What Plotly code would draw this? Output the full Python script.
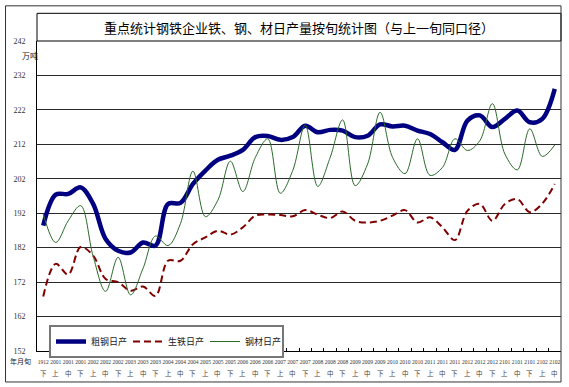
import plotly.graph_objects as go

# ---- data ----
years = ["1912",
         "2001", "2001", "2001", "2002", "2002", "2002", "2003", "2003", "2003",
         "2004", "2004", "2004", "2005", "2005", "2005", "2006", "2006", "2006",
         "2007", "2007", "2007", "2008", "2008", "2008", "2009", "2009", "2009",
         "2010", "2010", "2010", "2011", "2011", "2011", "2012", "2012", "2012",
         "2101", "2101", "2101", "2102", "2102"]
periods = ["下",
           "上", "中", "下", "上", "中", "下", "上", "中", "下",
           "上", "中", "下", "上", "中", "下", "上", "中", "下",
           "上", "中", "下", "上", "中", "下", "上", "中", "下",
           "上", "中", "下", "上", "中", "下", "上", "中", "下",
           "上", "中", "下", "上", "中"]

crude_steel = [188.4, 197.4, 197.6, 199.5, 194.7, 184.5, 181.1, 180.6, 183.5, 182.6,
               194.7, 195.0, 200.5, 204.4, 207.5, 208.7, 210.4, 214.1, 214.4, 213.3,
               214.1, 217.4, 215.5, 216.2, 216.0, 214.1, 214.5, 217.8, 217.2, 217.4,
               216.0, 215.0, 212.6, 210.4, 218.9, 220.4, 217.0, 219.4, 221.8, 218.4,
               219.4, 228.1]
pig_iron = [167.8, 177.3, 174.2, 182.2, 179.7, 172.9, 172.0, 169.5, 170.7, 168.0,
            178.2, 178.2, 183.0, 185.0, 186.9, 185.8, 187.9, 191.3, 191.6, 191.5,
            191.1, 192.9, 191.6, 190.6, 192.5, 189.8, 189.3, 189.8, 191.3, 192.9,
            189.3, 190.8, 187.9, 184.2, 192.7, 194.7, 189.8, 194.7, 196.1, 192.3,
            194.8, 200.5]
steel_products = [191.8, 183.5, 189.8, 194.2, 179.5, 169.3, 179.2, 168.3, 176.0, 185.4,
                  182.6, 189.0, 204.2, 191.0, 195.8, 207.1, 198.3, 208.2, 213.6, 197.8,
                  204.4, 217.6, 199.8, 208.2, 219.1, 200.0, 206.3, 221.3, 208.2, 203.5,
                  213.6, 203.0, 205.3, 213.6, 210.2, 213.1, 223.8, 209.2, 204.6, 216.5,
                  208.5, 211.8]

series_names = ["粗钢日产", "生铁日产", "钢材日产"]
y_ticks = [152, 162, 172, 182, 192, 202, 212, 222, 232, 242]
title_text = "重点统计钢铁企业铁、钢、材日产量按旬统计图（与上一旬同口径）"
unit_text = "万吨"
xlabel_text = "年月旬"

# ---- layout helpers ----
W, H = 569, 387
L, R, T, B = 37, 561.5, 40.7, 351


def px2x(px):
    return (px - L) / (R - L)


def py2y(py):
    return (B - py) / (B - T)


keys = [y + p for y, p in zip(years, periods)]
FONT = "Liberation Serif, Noto Sans CJK SC, serif"
CJK = "Noto Sans CJK SC, sans-serif"

fig = go.Figure()
fig.add_trace(go.Scatter(x=keys, y=crude_steel, name=series_names[0], mode="lines",
                         line=dict(color="#000080", width=4.5, shape="spline", smoothing=1)))
fig.add_trace(go.Scatter(x=keys, y=pig_iron, name=series_names[1], mode="lines",
                         line=dict(color="#800000", width=2, dash="7px,4px", shape="spline", smoothing=1)))
fig.add_trace(go.Scatter(x=keys, y=steel_products, name=series_names[2], mode="lines",
                         line=dict(color="#2a6a2a", width=1, shape="spline", smoothing=1)))

annotations = [
    dict(text=title_text, x=0.5, y=py2y(27), xref="paper", yref="paper", showarrow=False,
         font=dict(family=CJK, size=13, color="#000"), xanchor="center", yanchor="middle"),
    dict(text=unit_text, x=px2x(30), y=py2y(55), xref="paper", yref="paper", showarrow=False,
         font=dict(family=CJK, size=8, color="#222"), xanchor="center", yanchor="middle"),
    dict(text=xlabel_text, x=px2x(20), y=py2y(361), xref="paper", yref="paper", showarrow=False,
         font=dict(family=CJK, size=7, color="#222"), xanchor="center", yanchor="middle"),
]
for k, p in zip(keys, periods):
    annotations.append(dict(text=p, x=k, y=py2y(373), xref="x", yref="paper", showarrow=False,
                            font=dict(family=CJK, size=6.5, color="#444"),
                            xanchor="center", yanchor="middle"))

shapes = [
    dict(type="rect", xref="paper", yref="paper", x0=0, x1=1, y0=1, y1=py2y(13),
         line=dict(color="#000", width=1)),
    dict(type="rect", xref="paper", yref="paper", x0=px2x(5.5), x1=px2x(561.5),
         y0=py2y(382), y1=py2y(5.5), line=dict(color="#333", width=1)),
]

fig.update_layout(
    width=W, height=H,
    margin=dict(l=L, r=W - R, t=T, b=H - B, pad=0, autoexpand=False),
    paper_bgcolor="white", plot_bgcolor="white",
    font=dict(family=FONT, size=8, color="#222"),
    showlegend=True,
    legend=dict(orientation="h", x=px2x(49), y=py2y(325), xanchor="left", yanchor="top",
                bgcolor="white", bordercolor="#777", borderwidth=2,
                font=dict(family=CJK, size=9, color="#222"),
                itemwidth=30, entrywidth=32, tracegroupgap=0),
    annotations=annotations,
    shapes=shapes,
    xaxis=dict(type="category", categoryorder="array", categoryarray=keys,
               range=[-0.5, len(keys) - 0.5],
               tickmode="array", tickvals=keys, ticktext=years,
               tickfont=dict(family=FONT, size=5.5, color="#333"),
               tickangle=0, ticks="inside", ticklen=3, tickcolor="#000", tickson="boundaries",
               ticklabelstandoff=5, automargin=False,
               showgrid=False, showline=True, linecolor="#000", linewidth=1, zeroline=False,
               mirror=False),
    yaxis=dict(range=[152, 242], tickmode="array", tickvals=y_ticks,
               ticktext=[str(v) for v in y_ticks],
               tickfont=dict(family=FONT, size=8, color="#333"),
               showgrid=True, gridcolor="#2a2a2a", gridwidth=1,
               showline=True, linecolor="#000", linewidth=1, zeroline=False,
               ticks="", ticklabelstandoff=9, automargin=False),
)

fig.write_html("out.html", config={"displayModeBar": False},
               post_script="document.body.style.margin='0px';")
